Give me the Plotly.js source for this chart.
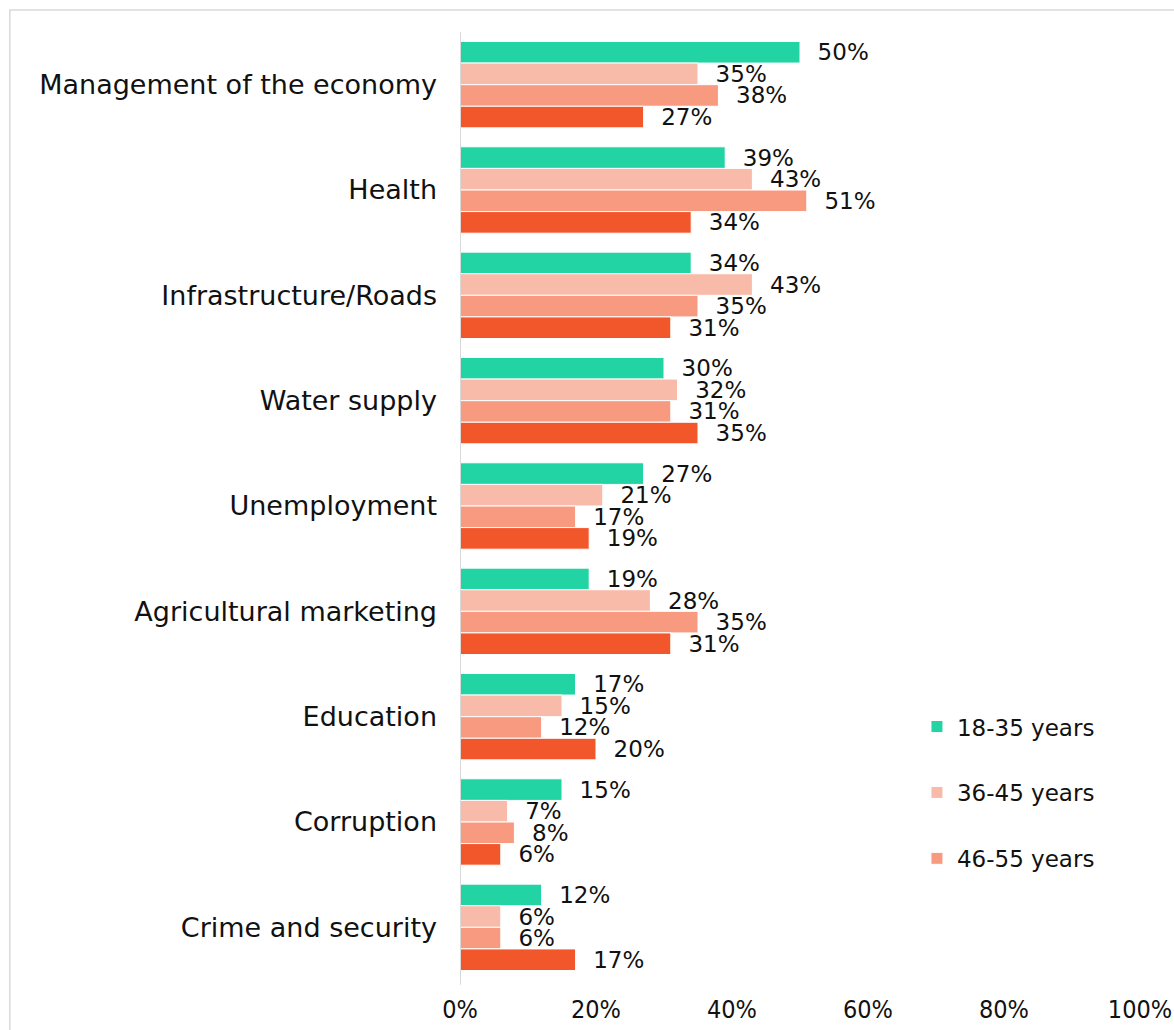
<!DOCTYPE html>
<html>
<head>
<meta charset="utf-8">
<script src="https://cdn.plot.ly/plotly-3.0.1.min.js"></script>
<style>html,body{margin:0;padding:0;background:#fff;}#chart{width:1174px;height:1030px;}</style>
</head>
<body>
<div id="chart"></div>
<script>
const categories = ["Management of the economy","Health","Infrastructure/Roads","Water supply","Unemployment","Agricultural marketing","Education","Corruption","Crime and security"];
const seriesNames = ["18-35 years","36-45 years","46-55 years","56+ years"];
const age18_35 = [50,39,34,30,27,19,17,15,12];
const age36_45 = [35,43,43,32,21,28,15,7,6];
const age46_55 = [38,51,35,31,17,35,12,8,6];
const age56plus = [27,34,31,35,19,31,20,6,17];
const xTickVals = [0,20,40,60,80,100];
const xTickText = ["0%","20%","40%","60%","80%","100%"];

const colors = ["#22d3a3","#f9bba9","#f89a80","#f2562b"];
const seriesValues = [age18_35, age36_45, age46_55, age56plus];
const FONT = "'DejaVu Sans', sans-serif";
const NARROW = "'Liberation Sans Narrow', 'DejaVu Sans Condensed', sans-serif";

const traces = seriesValues.map((vals, i) => ({
  type: "bar",
  orientation: "h",
  name: seriesNames[i],
  legendgroup: "g" + i,
  showlegend: i < 3,
  y: categories,
  x: vals,
  text: vals.map(v => "  " + v + "%"),
  texttemplate: "%{text}",
  marker: {color: colors[i], line: {color: "#ffffff", width: 1}},
  textposition: "outside",
  constraintext: "none",
  cliponaxis: false,
  textfont: {family: FONT, size: 23, color: "#111"},
  hoverinfo: "none"
}));

const layout = {
  width: 1174, height: 1030,
  margin: {l: 460, r: 34, t: 32, b: 50},
  paper_bgcolor: "#fff", plot_bgcolor: "#fff",
  barmode: "group",
  bargap: 0.18,
  bargroupgap: 0,
  font: {family: FONT, size: 22, color: "#111"},
  xaxis: {
    range: [0, 100], tickvals: xTickVals, ticktext: xTickText,
    showgrid: false, zeroline: false, showline: false, ticks: "",
    ticklabelstandoff: 12,
    tickfont: {family: NARROW, size: 25, color: "#111"}
  },
  yaxis: {
    autorange: "reversed", showgrid: false, zeroline: false,
    showline: false, ticks: "", ticklabelstandoff: 22,
    tickfont: {family: FONT, size: 27, color: "#111"}
  },
  legend: {
    x: 0.672, y: 0.29, xanchor: "left", yanchor: "top",
    traceorder: "grouped", tracegroupgap: 33,
    font: {family: FONT, size: 23, color: "#111"},
    bgcolor: "rgba(0,0,0,0)", itemwidth: 30
  },
  shapes: [
    {type: "rect", xref: "paper", yref: "paper", x0: -0.662, x1: 1.2, y0: -0.2, y1: 1.0232,
     line: {color: "#d9d9d9", width: 1.5}, fillcolor: "rgba(0,0,0,0)", layer: "below"},
    {type: "line", xref: "x", yref: "paper", x0: 0, x1: 0, y0: -0.005, y1: 1.0,
     line: {color: "#d9d9d9", width: 2}, layer: "above"}
  ]
};

Plotly.newPlot("chart", traces, layout, {displayModeBar: false, staticPlot: true});
</script>
</body>
</html>
